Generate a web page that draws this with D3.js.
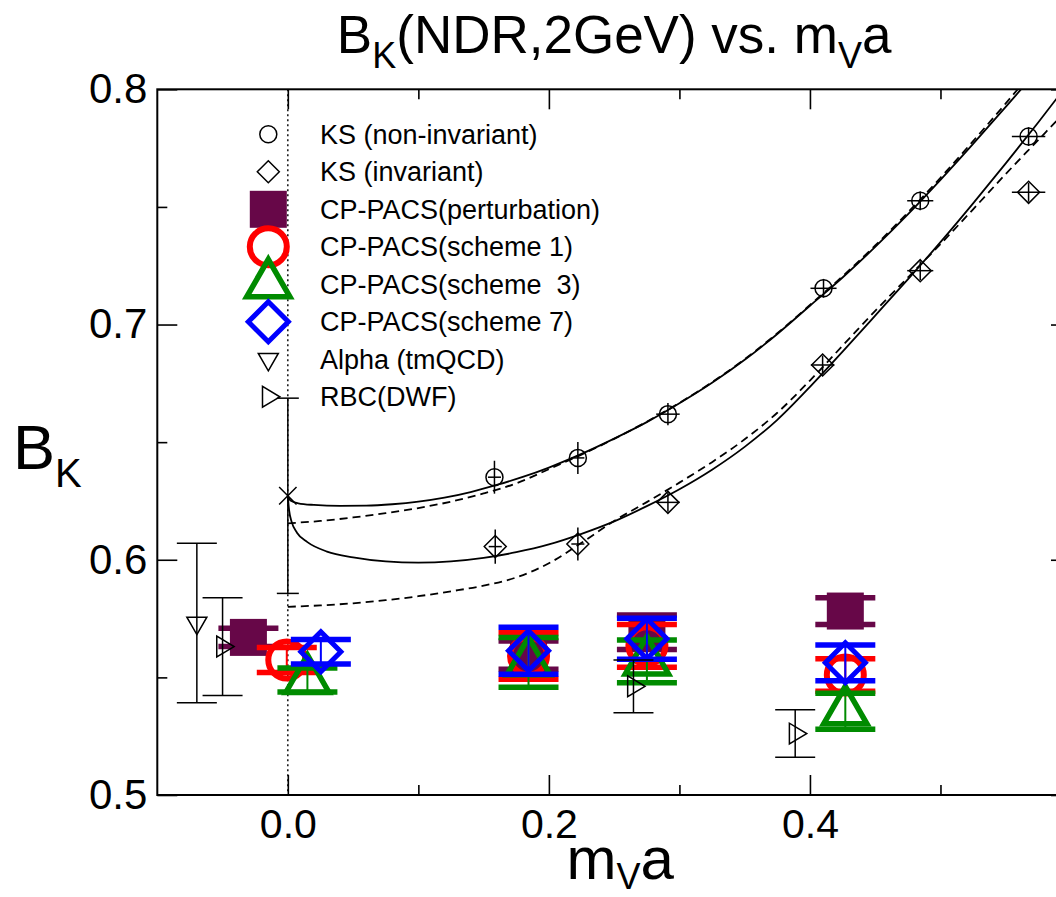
<!DOCTYPE html>
<html><head><meta charset="utf-8">
<script src="https://cdn.jsdelivr.net/npm/d3@7"></script>
<style>
body{margin:0;background:#fff}
svg{display:block}
text{font-family:"Liberation Sans",Arial,Helvetica,sans-serif;white-space:pre}
</style>
</head><body><svg id="c" width="1056" height="897"></svg>
<script>
// ---------------- data ----------------
const xMajorTicks = [0.0, 0.2, 0.4];
const xMinorTicks = [0.1, 0.3, 0.5];
const yMajorTicks = [0.5, 0.6, 0.7, 0.8];
const yMinorTicks = [0.55, 0.65, 0.75];

// KS points: [x, y, xerr, yerr]
const ksNonInv = [
  [0.1583, 0.6351, 0.005, 0.0070],
  [0.2222, 0.6433, 0.005, 0.0068],
  [0.2912, 0.6619, 0.009, 0.0047],
  [0.4104, 0.7154, 0.010, 0.0040],
  [0.4845, 0.7526, 0.010, 0.0040],
  [0.5675, 0.7799, 0.0128, 0.0040]
];
const ksInv = [
  [0.1589, 0.6056, 0.005, 0.0073],
  [0.2222, 0.6067, 0.005, 0.0070],
  [0.2912, 0.6244, 0.009, 0.0040],
  [0.4097, 0.6828, 0.009, 0.0040],
  [0.4845, 0.7229, 0.010, 0.0040],
  [0.5675, 0.7562, 0.0128, 0.0040]
];
// chiral-limit point: [x, y, yerr]
const ksChiral = [[0.0, 0.6272, 0.0415]];

// fit curves [x, y]
const fitNonInvSolid = [
  [0.000,0.6270],[0.002,0.6252],[0.008,0.6240],[0.020,0.6233],[0.040,0.6229],[0.060,0.6230],
  [0.080,0.6236],[0.100,0.6247],[0.120,0.6264],[0.140,0.6288],[0.160,0.6318],[0.180,0.6352],
  [0.200,0.6392],[0.225,0.6450],[0.250,0.6515],[0.275,0.6585],[0.300,0.6665],[0.325,0.6752],
  [0.350,0.6850],[0.375,0.6960],[0.400,0.7080],[0.425,0.7200],[0.450,0.7330],[0.475,0.7468],
  [0.500,0.7615],[0.525,0.7768],[0.550,0.7925],[0.575,0.8085]
];
const fitNonInvDashed = [
  [0.000,0.6155],[0.025,0.6165],[0.050,0.6180],[0.075,0.6198],[0.100,0.6220],[0.125,0.6247],
  [0.150,0.6282],[0.175,0.6325],[0.200,0.6385],[0.225,0.6447],[0.250,0.6514],[0.275,0.6587],
  [0.300,0.6667],[0.325,0.6755],[0.350,0.6853],[0.375,0.6963],[0.400,0.7083],[0.425,0.7205],
  [0.450,0.7336],[0.475,0.7476],[0.500,0.7624],[0.525,0.7780],[0.550,0.7940],[0.575,0.8105]
];
const fitInvSolid = [
  [0.000,0.6270],[0.001,0.6210],[0.003,0.6160],[0.007,0.6115],[0.015,0.6075],[0.030,0.6035],
  [0.050,0.6010],[0.075,0.5993],[0.100,0.5988],[0.125,0.5993],[0.150,0.6008],[0.175,0.6032],
  [0.200,0.6065],[0.225,0.6110],[0.250,0.6163],[0.275,0.6228],[0.300,0.6300],[0.325,0.6383],
  [0.350,0.6480],[0.375,0.6595],[0.400,0.6735],[0.425,0.6885],[0.450,0.7038],[0.475,0.7192],
  [0.500,0.7350],[0.525,0.7515],[0.550,0.7685],[0.575,0.7860],[0.600,0.8040]
];
const fitInvDashed = [
  [0.000,0.5800],[0.025,0.5806],[0.050,0.5815],[0.075,0.5828],[0.100,0.5845],[0.125,0.5866],
  [0.150,0.5890],[0.175,0.5925],[0.200,0.5985],[0.225,0.6072],[0.250,0.6165],[0.275,0.6245],
  [0.300,0.6328],[0.325,0.6415],[0.350,0.6512],[0.375,0.6625],[0.400,0.6762],[0.425,0.6910],
  [0.450,0.7058],[0.475,0.7200],[0.500,0.7342],[0.525,0.7490],[0.550,0.7640],[0.575,0.7785],
  [0.600,0.7930]
];

// CP-PACS: [x, y, yerr]
const cpPert = [[-0.0302,0.5670,0.0039],[0.1844,0.5595,0.0060],[0.2751,0.5692,0.0073],[0.4271,0.5782,0.0057]];
const cpS1   = [[-0.0008,0.5574,0.0053],[0.1844,0.5591,0.0099],[0.2751,0.5634,0.0091],[0.4271,0.5510,0.0069]];
const cpS3   = [[ 0.0150,0.5489,0.0051],[0.1844,0.5564,0.0106],[0.2751,0.5568,0.0091],[0.4271,0.5356,0.0077]];
const cpS7   = [[ 0.0253,0.5609,0.0052],[0.1844,0.5613,0.0100],[0.2751,0.5664,0.0087],[0.4271,0.5562,0.0076]];
// Alpha (tmQCD), RBC(DWF): [x, y, yerr]
const alpha = [[-0.0697,0.5731,0.0339]];
const rbc   = [[-0.0500,0.5631,0.0208],[0.2648,0.5462,0.0112],[0.3887,0.5261,0.0101]];

const legendLabels = ["KS (non-invariant)","KS (invariant)","CP-PACS(perturbation)","CP-PACS(scheme 1)",
  "CP-PACS(scheme  3)","CP-PACS(scheme 7)","Alpha (tmQCD)","RBC(DWF)"];
const legendSymbols = ["circle","diamond","square","bigcircle","bigtriangle","bigdiamond","tridown","triright"];

// ---------------- drawing ----------------
const L = 157.3, R = 1071, T = 89.3, B = 795;
const x = d3.scaleLinear().domain([-0.1, 0.6]).range([L, R]);
const y = d3.scaleLinear().domain([0.5, 0.8]).range([B, T]);
const svg = d3.select("#c");

const COL = {pert:"#670748", s1:"#ff0000", s3:"#008b00", s7:"#0000ff"};

svg.append("defs").append("clipPath").attr("id","clip")
  .append("rect").attr("x",L).attr("y",T).attr("width",R-L).attr("height",B-T);
const plot = svg.append("g").attr("clip-path","url(#clip)");

// dotted zero line
plot.append("line").attr("x1",x(0)).attr("x2",x(0)).attr("y1",T).attr("y2",B)
  .attr("stroke","#000").attr("stroke-width",1.4).attr("stroke-dasharray","2,3");

// curves
const line = d3.line().x(d=>x(d[0])).y(d=>y(d[1])).curve(d3.curveMonotoneX);
[[fitNonInvSolid,null],[fitNonInvDashed,"8,5"],[fitInvSolid,null],[fitInvDashed,"8,5"]].forEach(([d,dash])=>{
  plot.append("path").datum(d).attr("d",line).attr("fill","none").attr("stroke","#000")
    .attr("stroke-width",1.8).attr("stroke-dasharray",dash);
});

function drawSymbol(g, type, cx, cy){
  const s = g.append("g").attr("transform",`translate(${cx},${cy})`);
  if(type==="circle"){
    s.append("circle").attr("r",8.5).attr("fill","none").attr("stroke","#000").attr("stroke-width",1.5);
  } else if(type==="diamond"){
    s.append("path").attr("d","M0,-11L11,0L0,11L-11,0Z").attr("fill","none").attr("stroke","#000").attr("stroke-width",1.5);
  } else if(type==="square"){
    s.append("rect").attr("x",-18.5).attr("y",-18.5).attr("width",37).attr("height",37).attr("fill",COL.pert);
  } else if(type==="bigcircle"){
    s.append("circle").attr("r",18.5).attr("fill","none").attr("stroke",COL.s1).attr("stroke-width",6);
  } else if(type==="bigtriangle"){
    s.append("path").attr("d","M0,-25L21.6,12.5L-21.6,12.5Z").attr("fill","none").attr("stroke",COL.s3).attr("stroke-width",5.5);
  } else if(type==="bigdiamond"){
    s.append("path").attr("d","M0,-20L20,0L0,20L-20,0Z").attr("fill","none").attr("stroke",COL.s7).attr("stroke-width",5);
  } else if(type==="tridown"){
    s.append("path").attr("d","M0,11.5L10,-5.8L-10,-5.8Z").attr("fill","none").attr("stroke","#000").attr("stroke-width",1.5);
  } else if(type==="triright"){
    s.append("path").attr("d","M11.5,0L-5.8,10.4L-5.8,-10.4Z").attr("fill","none").attr("stroke","#000").attr("stroke-width",1.5);
  } else if(type==="x"){
    s.append("path").attr("d","M-8.7,-8.7L8.7,8.7M-8.7,8.7L8.7,-8.7").attr("stroke","#000").attr("stroke-width",1.5);
  }
}

// KS points
function drawKS(data, type){
  const g = plot.append("g");
  data.forEach(d=>{
    g.append("line").attr("x1",x(d[0]-d[2])).attr("x2",x(d[0]+d[2])).attr("y1",y(d[1])).attr("y2",y(d[1]))
      .attr("stroke","#000").attr("stroke-width",1.5);
    g.append("line").attr("x1",x(d[0])).attr("x2",x(d[0])).attr("y1",y(d[1]-d[3])).attr("y2",y(d[1]+d[3]))
      .attr("stroke","#000").attr("stroke-width",1.5);
    drawSymbol(g, type, x(d[0]), y(d[1]));
  });
}
drawKS(ksNonInv,"circle");
drawKS(ksInv,"diamond");

// vertical error bars with caps
function drawErr(data, type, color, capHalf, capW, lineW){
  const g = plot.append("g");
  data.forEach(d=>{
    const cx = x(d[0]);
    g.append("line").attr("x1",cx).attr("x2",cx).attr("y1",y(d[1]-d[2])).attr("y2",y(d[1]+d[2]))
      .attr("stroke",color).attr("stroke-width",lineW);
    [d[1]-d[2], d[1]+d[2]].forEach(v=>{
      g.append("line").attr("x1",cx-capHalf).attr("x2",cx+capHalf).attr("y1",y(v)).attr("y2",y(v))
        .attr("stroke",color).attr("stroke-width",capW);
    });
    drawSymbol(g, type, cx, y(d[1]));
  });
}
drawErr(cpPert,"square",COL.pert,30,5.5,2);
drawErr(cpS1,"bigcircle",COL.s1,30,5.5,2);
drawErr(cpS3,"bigtriangle",COL.s3,30,5.5,2);
drawErr(cpS7,"bigdiamond",COL.s7,30,5.5,2);
drawErr(alpha,"tridown","#000",20,1.5,1.5);
drawErr(rbc,"triright","#000",20,1.5,1.5);
drawErr(ksChiral,"x","#000",11,1.5,1.5);

// ---------------- axes / frame ----------------
const fs = 42;
function styleAxis(g){ g.select(".domain").remove(); g.selectAll("line").attr("stroke","#000").attr("stroke-width",1.6); }
svg.append("g").attr("transform",`translate(0,${B})`)
  .call(d3.axisBottom(x).tickValues(xMajorTicks).tickSize(-20).tickPadding(14).tickFormat(d3.format(".1f")))
  .call(styleAxis).call(g=>g.selectAll("text").attr("font-size",41).attr("fill","#000").attr("font-family",null));
svg.append("g").attr("transform",`translate(0,${B})`)
  .call(d3.axisBottom(x).tickValues(xMinorTicks).tickSize(-10).tickFormat("")).call(styleAxis);
svg.append("g").attr("transform",`translate(0,${T})`)
  .call(d3.axisTop(x).tickValues(xMajorTicks).tickSize(-20).tickFormat("")).call(styleAxis);
svg.append("g").attr("transform",`translate(0,${T})`)
  .call(d3.axisTop(x).tickValues(xMinorTicks).tickSize(-10).tickFormat("")).call(styleAxis);
svg.append("g").attr("transform",`translate(${L},0)`)
  .call(d3.axisLeft(y).tickValues(yMajorTicks).tickSize(-20).tickPadding(10).tickFormat(d3.format(".1f")))
  .call(styleAxis).call(g=>g.selectAll("text").attr("font-size",fs).attr("fill","#000").attr("font-family",null));
svg.append("g").attr("transform",`translate(${L},0)`)
  .call(d3.axisLeft(y).tickValues(yMinorTicks).tickSize(-10).tickFormat("")).call(styleAxis);
svg.append("g").attr("transform",`translate(${R},0)`)
  .call(d3.axisRight(y).tickValues(yMajorTicks).tickSize(-20).tickFormat("")).call(styleAxis);
svg.append("g").attr("transform",`translate(${R},0)`)
  .call(d3.axisRight(y).tickValues(yMinorTicks).tickSize(-10).tickFormat("")).call(styleAxis);
svg.append("rect").attr("x",L).attr("y",T).attr("width",R-L).attr("height",B-T)
  .attr("fill","none").attr("stroke","#000").attr("stroke-width",2);

// ---------------- legend ----------------
const lg = svg.append("g");
legendLabels.forEach((lab,i)=>{
  const cy = 134.3 + i*37.5;
  drawSymbol(lg, legendSymbols[i], 268.3, cy);
  lg.append("text").attr("x",320).attr("y",cy+9.5).attr("font-size",27).text(lab);
});

// ---------------- titles ----------------
const title = svg.append("text").attr("x",(L+R)/2).attr("y",53).attr("text-anchor","middle").attr("font-size",53);
title.append("tspan").text("B");
title.append("tspan").attr("font-size",36).attr("dy",15).text("K");
title.append("tspan").attr("dy",-15).text("(NDR,2GeV) vs. m");
title.append("tspan").attr("font-size",36).attr("dy",15).text("V");
title.append("tspan").attr("dy",-15).text("a");

const xl = svg.append("text").attr("x",(L+R)/2 + 6).attr("y",879).attr("text-anchor","middle").attr("font-size",60);
xl.append("tspan").text("m");
xl.append("tspan").attr("font-size",36).attr("dy",10).text("V");
xl.append("tspan").attr("dy",-10).text("a");

const yl = svg.append("text").attr("x",13).attr("y",469).attr("font-size",63);
yl.append("tspan").text("B");
yl.append("tspan").attr("font-size",40).attr("dy",18).text("K");
</script></body></html>
